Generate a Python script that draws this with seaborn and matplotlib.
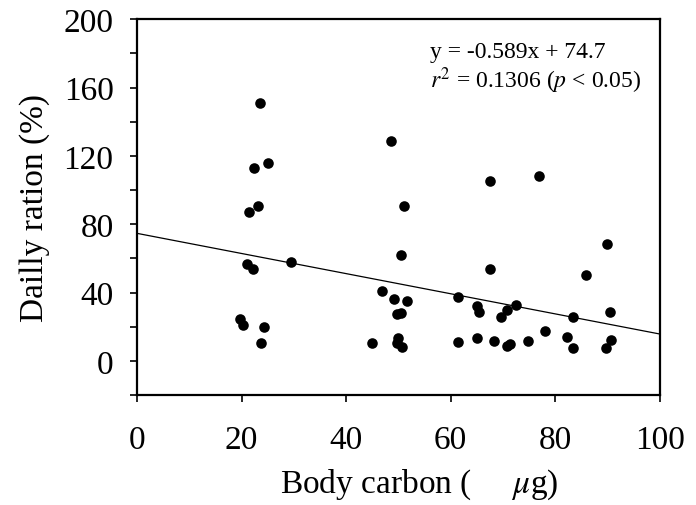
import matplotlib
matplotlib.use("Agg")
import matplotlib.pyplot as plt
import seaborn as sns
import numpy as np
import pandas as pd
from matplotlib.ticker import MultipleLocator

# Data
body_carbon = [23.5, 25.0, 22.4, 23.1, 21.4, 29.4, 21.0, 22.1, 19.6, 20.2, 24.2, 23.7,
               48.5, 51.0, 50.5, 46.8, 49.2, 51.6, 49.7, 50.4, 44.9, 50.0, 49.8, 50.6,
               67.6, 76.9, 89.9, 67.6, 85.9, 61.4, 65.0, 65.5, 72.5, 70.7, 69.7, 83.3,
               90.4, 78.0, 61.3, 65.0, 68.3, 71.3, 70.7, 74.7, 82.2, 83.3, 90.6, 89.7]
daily_ration = [150.7, 115.6, 113.0, 91.0, 87.0, 58.1, 56.7, 53.6, 24.7, 21.0, 20.1, 10.7,
                128.7, 91.0, 62.2, 40.8, 36.3, 35.3, 27.5, 27.9, 10.4, 13.3, 10.5, 8.0,
                105.4, 108.4, 68.4, 54.0, 50.1, 37.6, 32.0, 28.7, 32.6, 29.8, 25.5, 25.7,
                28.7, 17.5, 11.3, 13.3, 11.9, 10.1, 8.6, 11.5, 14.0, 7.8, 12.5, 7.6]
slope = -0.589
intercept = 74.7
r2_text = "0.1306"
x_ticks = [0, 20, 40, 60, 80, 100]
y_ticks = [0, 40, 80, 120, 160, 200]

df = pd.DataFrame({"Body carbon": body_carbon, "Daily ration": daily_ration})
fit_x = np.array([0.0, 100.0])
fit_df = pd.DataFrame({"x": fit_x, "y": slope * fit_x + intercept})

sns.set_style("ticks")
plt.rcParams["font.family"] = ["Liberation Serif", "DejaVu Serif"]
plt.rcParams["mathtext.fontset"] = "stix"
plt.rcParams["text.color"] = "black"
plt.rcParams["axes.labelcolor"] = "black"
plt.rcParams["xtick.color"] = "black"
plt.rcParams["ytick.color"] = "black"

fig = plt.figure(figsize=(6.96, 5.06), dpi=100)
ax = fig.add_axes([0.197, 0.217, 0.751, 0.743])

sns.lineplot(data=fit_df, x="x", y="y", ax=ax, color="black", linewidth=0.9)
sns.scatterplot(data=df, x="Body carbon", y="Daily ration", ax=ax, color="black",
                s=58, edgecolor="black", linewidth=0, zorder=3)

ax.set_xlim(0, 100)
ax.set_ylim(-20, 200)
ax.set_xticks(x_ticks)
ax.set_yticks(y_ticks)
ax.yaxis.set_minor_locator(MultipleLocator(20))
ax.tick_params(axis="both", which="both", direction="out", width=1.2,
               color="black", labelcolor="black")
ax.tick_params(axis="x", which="major", length=5, pad=16, labelsize=24)
ax.tick_params(axis="y", which="major", length=5, pad=12, labelsize=24)
ax.tick_params(axis="y", which="minor", length=5)

for side in ["left", "bottom", "top", "right"]:
    ax.spines[side].set_visible(True)
    ax.spines[side].set_color("black")
    ax.spines[side].set_linewidth(1.6)

ax.set_xlabel("")
ax.set_ylabel("")
fig.text(0.603, 0.042, "Body carbon (     $\\mu$g)", ha="center", va="center",
         fontsize=24, color="black")
fig.text(0.05, 0.589, "Dailly ration (%)", ha="center", va="center", rotation=90,
         fontsize=24, color="black")

ax.text(0.56, 0.915, f"y = {slope}x + {intercept}", transform=ax.transAxes,
        ha="left", va="center", fontsize=17, color="black")
ax.text(0.56, 0.84, f"$r^2$ = {r2_text} ($p$ < 0.05)", transform=ax.transAxes,
        ha="left", va="center", fontsize=17, color="black")

fig.savefig("out.png", dpi=100)
